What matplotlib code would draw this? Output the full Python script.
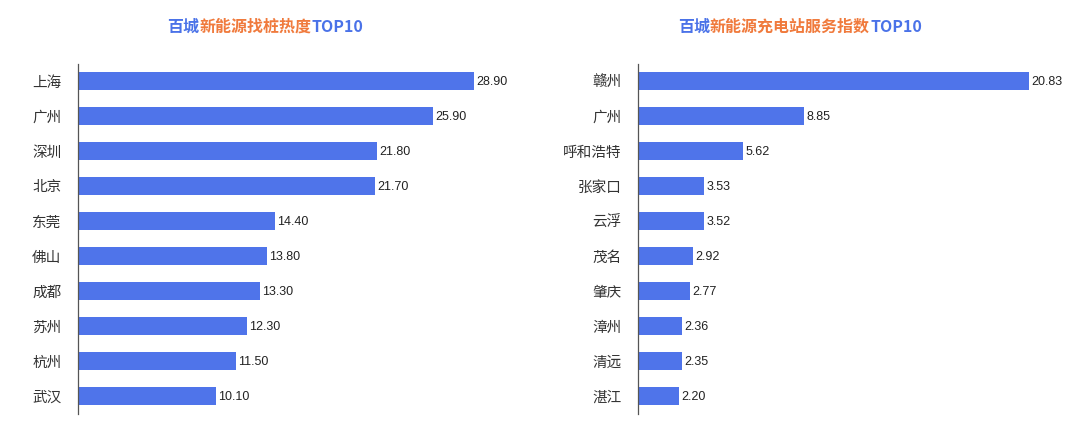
import matplotlib
matplotlib.use("Agg")
import matplotlib.pyplot as plt

plt.rcParams['font.family'] = ['Noto Sans CJK SC', 'DejaVu Sans']

# left chart: search heat
cities_left = ["上海", "广州", "深圳", "北京", "东莞", "佛山", "成都", "苏州", "杭州", "武汉"]
values_left = [28.90, 25.90, 21.80, 21.70, 14.40, 13.80, 13.30, 12.30, 11.50, 10.10]

# right chart: charging station service index
cities_right = ["赣州", "广州", "呼和浩特", "张家口", "云浮", "茂名", "肇庆", "漳州", "清远", "湛江"]
values_right = [20.83, 8.85, 5.62, 3.53, 3.52, 2.92, 2.77, 2.36, 2.35, 2.20]

title_left = [("百城", "blue"), ("新能源找桩热度", "orange"), ("TOP10", "blue")]
title_right = [("百城", "blue"), ("新能源充电站服务指数", "orange"), ("TOP10", "blue")]

BAR = "#4f74ea"
COLORS = {"blue": "#4a72e8", "orange": "#f07a3c"}

W, H = 1080, 426
fig = plt.figure(figsize=(W / 100, H / 100), dpi=100)


def bar_panel(rect, cities, values, xmax):
    ax = fig.add_axes(rect)
    pos = list(range(len(cities)))
    ax.barh(pos, values, height=0.5, color=BAR)
    for p, v in zip(pos, values):
        ax.annotate(f"{v:.2f}", (v, p), xytext=(1.5, -0.5), textcoords="offset points",
                    va="center", ha="left", fontsize=9, color="#222222",
                    family=["Liberation Sans", "DejaVu Sans"])
    ax.set_yticks(pos)
    ax.set_yticklabels(cities, fontsize=10.5, color="#333333")
    ax.set_ylim(9.5, -0.5)
    ax.set_xlim(0, xmax)
    ax.set_xticks([])
    ax.tick_params(axis="y", length=0, pad=12)
    for s in ["top", "right", "bottom"]:
        ax.spines[s].set_visible(False)
    ax.spines["left"].set_color("#555555")
    ax.spines["left"].set_linewidth(0.9)
    return ax


bar_panel([78 / W, 12.5 / H, 462 / W, 350 / H], cities_left, values_left, 33.7)
bar_panel([638 / W, 12.5 / H, 437 / W, 350 / H], cities_right, values_right, 23.28)


def colored_title(parts, cx, cy):
    renderer = fig.canvas.get_renderer()
    texts = []
    for s, c in parts:
        t = fig.text(0, cy / H, s, color=COLORS[c], fontsize=11.5, fontweight="bold",
                     va="center", ha="left")
        texts.append(t)
    widths = [t.get_window_extent(renderer).width for t in texts]
    x = cx - sum(widths) / 2
    for t, w in zip(texts, widths):
        t.set_x(x / W)
        x += w


colored_title(title_left, 265, H - 27)
colored_title(title_right, 800, H - 27)

fig.savefig("out.png", dpi=100, facecolor="white")
